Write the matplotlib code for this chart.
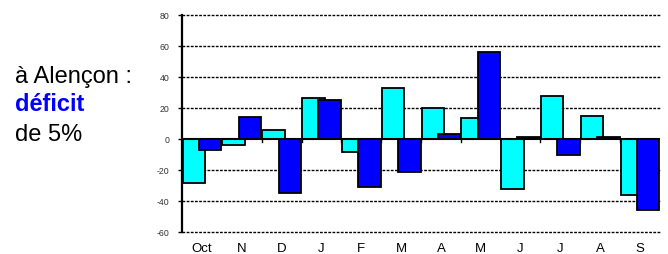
import matplotlib
matplotlib.use("Agg")
import matplotlib.pyplot as plt
import numpy as np

plt.rcParams['font.family'] = ['Liberation Sans', 'DejaVu Sans']

months = ["Oct", "N", "D", "J", "F", "M", "A", "M", "J", "J", "A", "S"]
serie_a = [-28.5, -4, 6, 26.5, -8.5, 33, 20, 13.5, -32.5, 28, 15, -36]
serie_b = [-7, 14, -35, 25, -31, -21, 3.5, 56, 1, -10.5, 1, -46]
yticks = [-60, -40, -20, 0, 20, 40, 60, 80]

fig = plt.figure(figsize=(6.68, 2.55), dpi=100)
ax = fig.add_axes([0.2725, 0.0863, 0.7155, 0.851])

x = np.arange(len(months))
w = 0.565
off = 0.205
ax.bar(x - off, serie_a, width=w, color="#00FFFF", edgecolor="black", linewidth=1.3, zorder=3)
ax.bar(x + off, serie_b, width=w, color="#0000FF", edgecolor="black", linewidth=1.3, zorder=4)

ax.set_xlim(-0.5, len(months) - 0.5)
ax.set_ylim(-60, 80)
ax.set_yticks(yticks)
ax.set_yticklabels([str(v) for v in yticks], fontsize=6.3, color="#333333")
for v in yticks:
    if v != 0:
        ax.axhline(v, color="black", linestyle=(0, (2, 1)), linewidth=1.0, zorder=1, clip_on=False)
ax.axhline(0, color="black", linewidth=1.5, zorder=5)
# category tick marks on zero line
for b in np.arange(0.5, len(months) - 0.5, 1.0):
    ax.plot([b, b], [0, -2], color="black", linewidth=1.0, zorder=2)

ax.set_xticks(x)
ax.set_xticklabels(months, fontsize=9.5)
ax.tick_params(axis="x", length=0, pad=7)
ax.tick_params(axis="y", length=3, width=1, direction="out", pad=6)
for s in ["top", "right", "bottom"]:
    ax.spines[s].set_visible(False)
ax.spines["left"].set_linewidth(1.6)

fig.text(0.022, 0.6745, "à Alençon :", fontsize=17, color="black", ha="left", va="baseline")
fig.text(0.022, 0.5647, "déficit", fontsize=17, color="#0000FF", fontweight="bold", ha="left", va="baseline")
fig.text(0.022, 0.447, "de 5%", fontsize=17, color="black", ha="left", va="baseline")

fig.savefig("out.png", dpi=100)
